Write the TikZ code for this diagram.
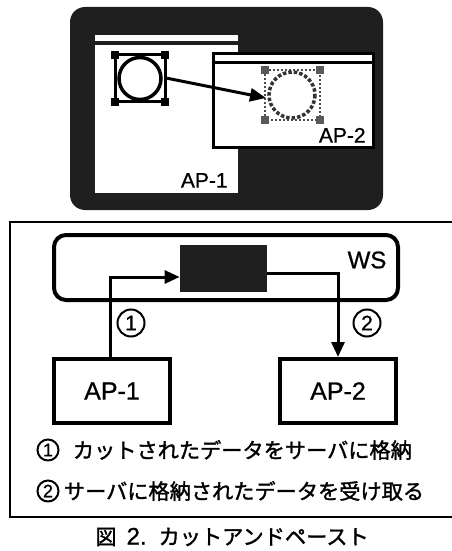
\documentclass[tikz,border=0pt]{standalone}
\usepackage{fontspec}
\setmainfont{Liberation Sans}[FakeBold=0.8]
\newfontfamily\jp{Noto Sans CJK JP}[FakeBold=1.5]
\usetikzlibrary{positioning, arrows.meta}

\tikzset{
  darkfill/.style={fill=black!88},
  apbox/.style={draw, line width=2pt, minimum width=58pt, minimum height=32pt, font=\fontsize{12.5}{14}\selectfont},
  flow/.style={line width=1.5pt, -{Triangle[length=7.5pt, width=6.5pt]}},
  numcircle/.style={circle, draw, line width=1pt, inner sep=0pt, minimum size=#1},
  jptext/.style={inner sep=0pt, font=\jp\fontsize{10.6}{12}\selectfont},
}

\begin{document}
\begin{tikzpicture}[x=0.5pt, y=-0.5pt]
\useasboundingbox (0,0) rectangle (451,551);

% Draw screen with two windows
\fill[darkfill, rounded corners=7.5pt] (70,7) rectangle (383,210);
\fill[white] (95,35) rectangle (238,41);
\fill[white] (95,45) rectangle (238,193);
\fill[black] (212,52) rectangle (375,149);
\fill[white] (215,55) rectangle (372,61);
\fill[white] (215,64) rectangle (372,146);
\node[anchor=south east, inner sep=0pt, font=\fontsize{10.5}{12}\selectfont] (win1) at (228,188) {AP-1};
\node[anchor=south east, inner sep=0pt, font=\fontsize{10.5}{12}\selectfont] (win2) at (366,143) {AP-2};

% Cut shape with its handles
\coordinate (src) at (140,78.5);
\draw[line width=1.5pt] (115,55) rectangle (165,102);
\draw[line width=1.75pt] (src) circle (21);
\foreach \x/\y in {115/55, 165/55, 115/102, 165/102}
  \fill (\x-4,\y-4) rectangle +(8,8);

% Pasted shape (dotted)
\coordinate (dst) at (292,95);
\draw[line width=1pt, densely dotted, black!70] (265,70) rectangle (320,120);
\draw[line width=1.75pt, densely dotted, black!80] (dst) circle (23);
\foreach \x/\y in {265/70, 320/70, 265/120, 320/120}
  \fill[black!65] (\x-4,\y-4) rectangle +(8,8);

% Drag arrow
\coordinate (cut) at (166,78);
\coordinate (paste) at (266,98);
\draw[line width=1.5pt, -{Triangle[length=8pt, width=6.5pt]}] (cut) -- (paste);

% Draw frame
\draw[line width=1pt] (460,222) -- (10,222) -- (10,517) -- (460,517);

% Draw workstation and buffer
\node[draw, line width=2pt, rounded corners=6pt, minimum width=172pt, minimum height=32.5pt] (ws) at (226,267.5) {};
\node[inner sep=0pt, font=\fontsize{12}{14}\selectfont] (wslabel) at (367,260) {WS};
\node[darkfill, minimum width=43.5pt, minimum height=23.5pt, inner sep=0pt] (buf) at (223.5,268.5) {};

% Draw applications
\node[apbox] (ap1) at (112,391) {AP-1};
\node[apbox] (ap2) at (338,391) {AP-2};

% Draw data flow
\draw[flow] ([xshift=-1pt]ap1.north) |- ([yshift=-4.25pt]buf.west);
\draw[flow] ([yshift=-2.25pt]buf.east) -| (ap2.north);
\node[numcircle=13.5pt, font=\fontsize{10.5}{12}\selectfont] (n1) at (131,323) {1};
\node[numcircle=13.5pt, font=\fontsize{10.5}{12}\selectfont] (n2) at (367,323) {2};

% Draw legend
\node[numcircle=10.5pt, font=\fontsize{9}{10}\selectfont] (l1) at (48,450) {1};
\node[jptext, right=6.5pt of l1] (t1) {カットされたデータをサーバに格納};
\node[numcircle=10.5pt, font=\fontsize{9}{10}\selectfont] (l2) at (48,491) {2};
\node[jptext, right=2pt of l2] (t2) {サーバに格納されたデータを受け取る};

% Caption
\node[jptext, anchor=west] (caption) at (95,537) {図\hspace{5pt}{\rmfamily\fontsize{12}{14}\selectfont 2.}\hspace{6pt}カットアンドペースト};

\end{tikzpicture}
\end{document}
